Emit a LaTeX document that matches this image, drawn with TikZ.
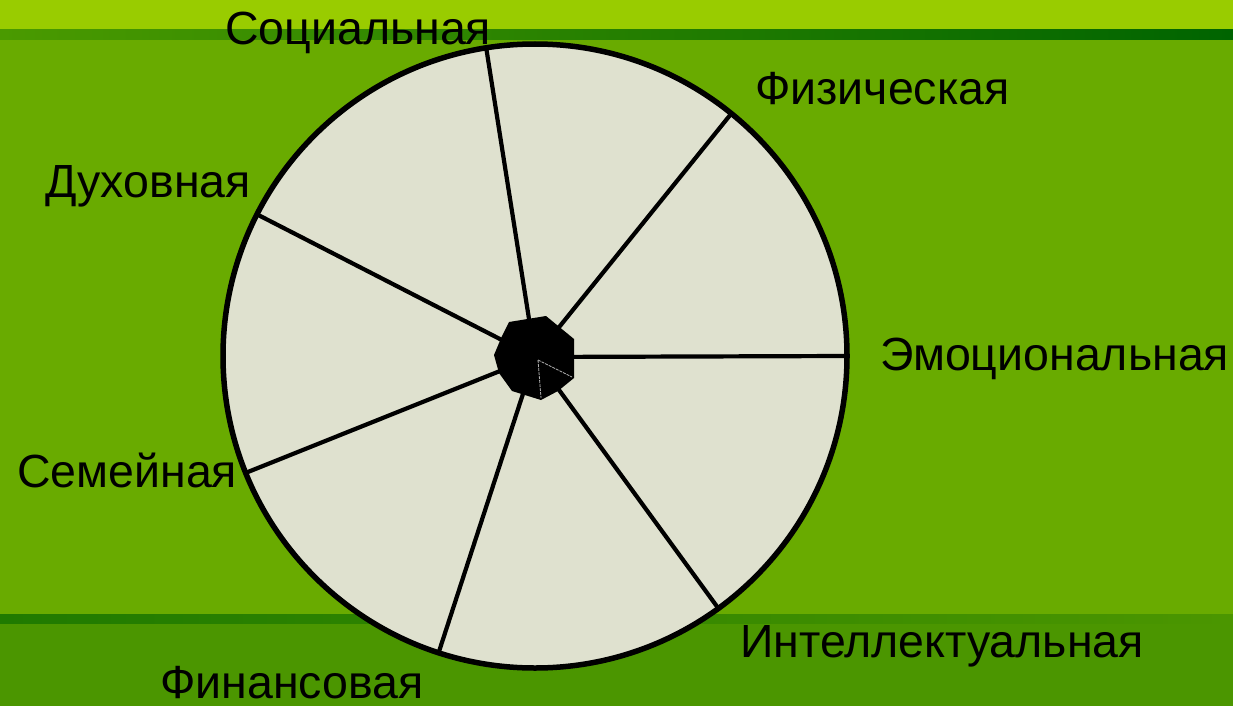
\documentclass[tikz,border=0pt]{standalone}
\usepackage{fontspec}
\setmainfont{Liberation Sans}
\definecolor{topband}{HTML}{99CC00}
\definecolor{mainbg}{HTML}{69AB00}
\definecolor{botband}{HTML}{4B9600}
\definecolor{stripeL}{HTML}{4A9A00}
\definecolor{stripeR}{HTML}{006400}
\definecolor{bstripeL}{HTML}{1F7A00}
\definecolor{wheelfill}{HTML}{DFE1CF}
\tikzset{
  lbl/.style={anchor=base west, inner sep=0pt, font=\fontsize{46.5}{50}\selectfont, text=black},
  spoke/.style={line width=4.2pt, black},
}
\begin{document}
\begin{tikzpicture}[x=1pt,y=-1pt]
\useasboundingbox (0,0) rectangle (1233,706);
% background
\fill[mainbg] (0,0) rectangle (1233,706);
\fill[topband] (0,0) rectangle (1233,30);
\shade[left color=stripeL, right color=stripeR] (0,30) rectangle (1233,40);
\fill[botband] (0,614) rectangle (1233,706);
\shade[left color=bstripeL, right color=botband] (0,614) rectangle (1233,623);
% wheel
\node[circle, draw=black, line width=5.5pt, fill=wheelfill, minimum size=624pt, inner sep=0pt, outer sep=0pt] (w) at (535,356) {};
\coordinate (hc) at (535,357);
\foreach \a in {99.6,51.7,0,-54.2,-108.5,-158.5,153}
  \draw[spoke] (hc) -- (w.\a);
% hub
\fill[black] (509,322) -- (546,316) -- (574,339) -- (574,378) -- (558,391) -- (541,400) -- (512,391) -- (499,373) -- (494,355) -- (502,336) -- cycle;
\coordinate (hi) at (538,360);
\coordinate (h1) at (572,377);
\coordinate (h2) at (541,398);
\draw[gray!60, line width=0.8pt, dash pattern=on 3pt off 1pt] (hi) -- (h1);
\draw[gray!60, line width=0.8pt, dash pattern=on 3pt off 1pt] (hi) -- (h2);
% labels
\node[lbl] (soc) at (225,45) {Социальная};
\node[lbl] (fiz) at (755,105) {Физическая};
\node[lbl] (duh) at (45,197) {Духовная};
\node[lbl] (emo) at (880,370) {Эмоциональная};
\node[lbl] (sem) at (17,487) {Семейная};
\node[lbl] (int) at (740,657) {Интеллектуальная};
\node[lbl] (fin) at (160,698) {Финансовая};
\end{tikzpicture}
\end{document}
